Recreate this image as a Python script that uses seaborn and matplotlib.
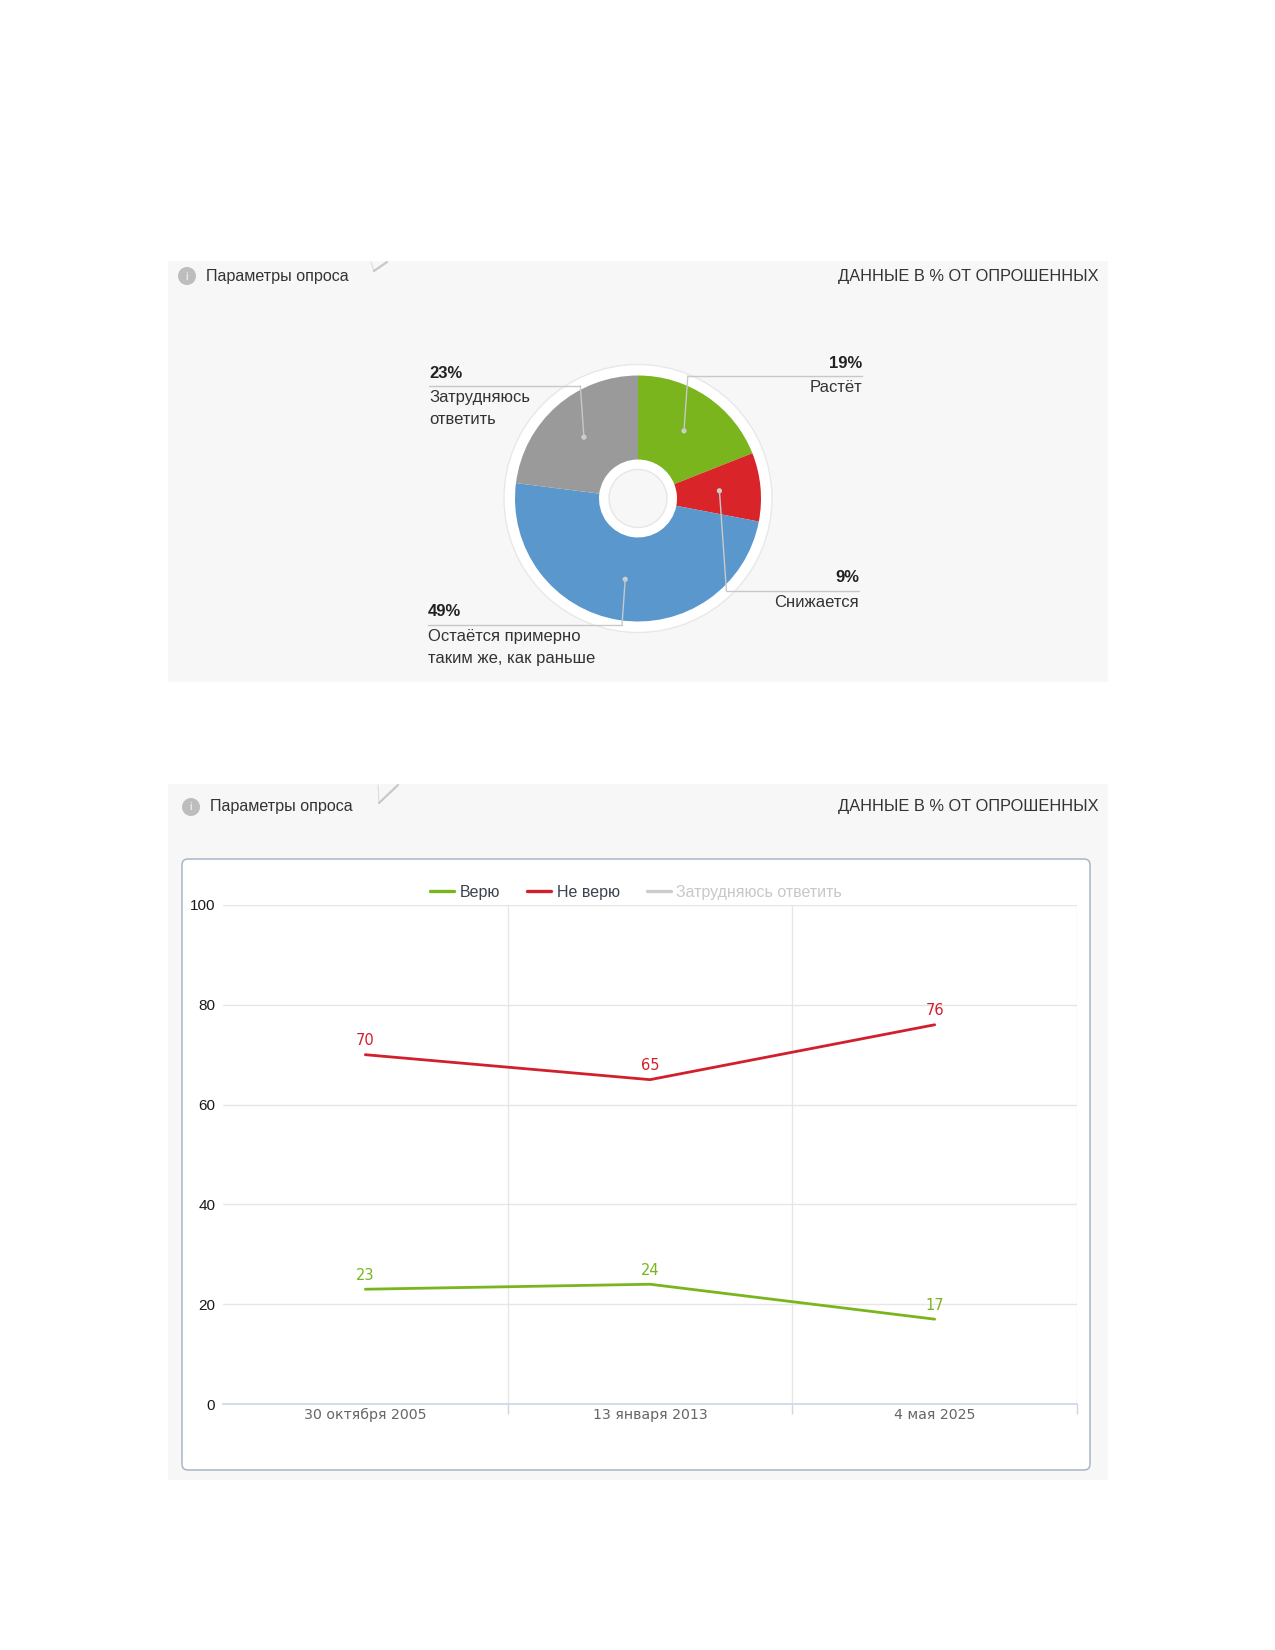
import numpy as np
import pandas as pd
import matplotlib
matplotlib.use("Agg")
import matplotlib.pyplot as plt
import seaborn as sns
from matplotlib.patches import Rectangle, Circle, FancyBboxPatch
from matplotlib.lines import Line2D

# ---- data ----
pie_labels = ["Растёт", "Снижается", "Остаётся примерно\nтаким же, как раньше", "Затрудняюсь\nответить"]
pie_values = [19, 9, 49, 23]
pie_colors = ["#7ab51d", "#d9242a", "#5a97cd", "#9a9a9a"]

dates = ["30 октября 2005", "13 января 2013", "4 мая 2025"]
believe = [23, 24, 17]
not_believe = [70, 65, 76]
series_names = ["Верю", "Не верю", "Затрудняюсь ответить"]
line_colors = ["#7ab51d", "#d21f2c", "#cccccc"]

W, H = 1275, 1650
sns.set_theme(style="white")
plt.rcParams["font.family"] = ["Liberation Sans", "DejaVu Sans"]

fig = plt.figure(figsize=(W / 100, H / 100), dpi=100)
fig.patch.set_facecolor("white")

# background layer in pixel coords (y down)
bg = fig.add_axes([0, 0, 1, 1])
bg.set_xlim(0, W); bg.set_ylim(H, 0); bg.axis("off")

def panel_header(icon_xy, text_x, check):
    bg.add_patch(Circle(icon_xy, 9, fc="#bdbdbd", ec="none"))
    bg.text(icon_xy[0], icon_xy[1] + 0.5, "i", ha="center", va="center", fontsize=7,
            color="#e8e8e8", fontweight="bold")
    bg.text(text_x, icon_xy[1], "Параметры опроса", ha="left", va="center",
            fontsize=11.6, color="#333333")
    bg.text(1099, icon_xy[1], "ДАННЫЕ В % ОТ ОПРОШЕННЫХ", ha="right", va="center",
            fontsize=11.8, color="#333333")
    (x0, y0), (x1, y1), (x2, y2) = check
    bg.plot([x0, x1], [y0, y1], color="#dcdcdc", lw=0.8)
    bg.plot([x1, x2], [y1, y2], color="#c8c8c8", lw=1.6, solid_capstyle="round")

bg.add_patch(Rectangle((168, 261), 940, 421, fc="#f7f7f7", ec="none"))
bg.add_patch(Rectangle((168, 784), 940, 696, fc="#f7f7f7", ec="none"))
bg.add_patch(FancyBboxPatch((182, 859), 908, 611, boxstyle="round,pad=0,rounding_size=6",
                            fc="white", ec="#a9b7c7", lw=1.1))
panel_header((187, 276), 206, [(371, 262), (374, 271), (387, 262)])
panel_header((191, 807), 210, [(378, 785), (379, 803), (398, 785)])

# ---- donut ----
cx, cy, R = 638, 498.5, 123
side = 2.5 * R
pax = fig.add_axes([(cx - side / 2) / W, (H - cy - side / 2) / H, side / W, side / H])
pax.add_patch(Circle((0, 0), 134 / R, fc="white", ec="#e8e8e8", lw=1, zorder=0))
pax.pie(pie_values, colors=pie_colors, startangle=90, counterclock=False, radius=1,
        wedgeprops=dict(width=1 - 39 / R, linewidth=0))
pax.add_patch(Circle((0, 0), 29 / R, fc="#f7f7f7", ec="#e6e6e6", lw=1, zorder=3))
pax.set_xlim(-1.25, 1.25); pax.set_ylim(-1.25, 1.25)
pax.set_aspect("equal"); pax.axis("off")

# overlay for leaders and labels
ov = fig.add_axes([0, 0, 1, 1])
ov.set_xlim(0, W); ov.set_ylim(H, 0); ov.axis("off"); ov.patch.set_alpha(0)

# label layout: (side, leader y, text x)
layout = [("right", 376, 862), ("right", 591, 859), ("left", 625, 428), ("left", 386, 429)]
cum = np.cumsum([0] + pie_values[:-1])
total = sum(pie_values)
for lab, val, start, (sd, ly, tx) in zip(pie_labels, pie_values, cum, layout):
    theta = 2 * np.pi * (start + val / 2) / total
    dx, dy = cx + 0.665 * R * np.sin(theta), cy - 0.665 * R * np.cos(theta)
    sign = 1 if sd == "right" else -1
    ex = dx + sign * abs(ly - dy) * 0.07
    ov.plot([dx, ex], [dy, ly], color="#c8c8c8", lw=1)
    ov.plot([ex, tx], [ly, ly], color="#c8c8c8", lw=1)
    ov.add_patch(Circle((dx, dy), 2.6, fc="#cfcfcf", ec="none"))
    ha = "right" if sd == "right" else "left"
    ov.text(tx, ly - 13, f"{val}%", ha=ha, va="center", fontsize=12, fontweight="bold",
            color="#222222")
    ov.text(tx, ly + 4, lab, ha=ha, va="top", fontsize=12, color="#333333",
            linespacing=1.62, multialignment=ha)

# ---- line chart ----
lax = fig.add_axes([223 / W, (H - 1404) / H, 854 / W, 499 / H])
df = pd.DataFrame({
    "date": dates * 2,
    "value": believe + not_believe,
    "series": [series_names[0]] * 3 + [series_names[1]] * 3,
})
sns.lineplot(data=df, x="date", y="value", hue="series", sort=False, legend=False,
             palette={series_names[0]: line_colors[0], series_names[1]: line_colors[1]},
             linewidth=2.0, ax=lax)
for _, row in df.iterrows():
    col = line_colors[series_names.index(row["series"])]
    lax.annotate(str(row["value"]), (dates.index(row["date"]), row["value"]),
                 xytext=(0, 10), textcoords="offset points", ha="center", va="center",
                 fontsize=10.5, color=col, family="DejaVu Sans")

lax.set_xlim(-0.5, 2.5); lax.set_ylim(0, 100)
lax.set_yticks(range(0, 101, 20))
lax.set_xticks([0.5, 1.5, 2.5], minor=True)
lax.yaxis.grid(True, color="#e6e6e6", lw=1)
lax.xaxis.grid(True, which="minor", color="#e6e6e6", lw=1)
lax.set_axisbelow(True)
for s in ["top", "right", "left"]:
    lax.spines[s].set_visible(False)
lax.spines["bottom"].set_color("#ccd6eb")
lax.spines["bottom"].set_linewidth(1.2)
lax.set_xlabel(""); lax.set_ylabel("")
lax.tick_params(axis="x", which="major", length=0, pad=3, labelsize=10.2, labelcolor="#666666")
lax.tick_params(axis="x", which="minor", length=7, width=1, color="#ccd6eb", direction="out",
                bottom=True)
lax.tick_params(axis="y", length=0, pad=5.5, labelsize=11, labelcolor="#1a1a1a")
for t in lax.get_xticklabels():
    t.set_family("DejaVu Sans")
for t in lax.get_yticklabels():
    t.set_family("Liberation Sans")

handles = [Line2D([], [], color=c, lw=2.4) for c in line_colors]
leg = lax.legend(handles, series_names, loc="center", bbox_to_anchor=(636 / W, 1 - 892 / H),
                 bbox_transform=fig.transFigure, ncol=3, frameon=False, fontsize=11.5,
                 handlelength=1.5, handletextpad=0.35, columnspacing=1.7)
for t, c in zip(leg.get_texts(), ["#3a4350", "#3a4350", "#c8c8c8"]):
    t.set_color(c)

plt.savefig("out.png", dpi=100)
plt.close()
